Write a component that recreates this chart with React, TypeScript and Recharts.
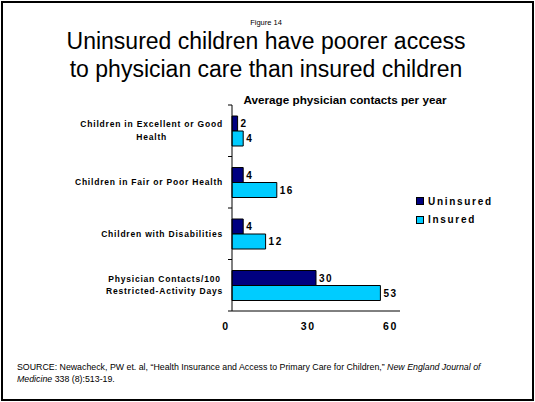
import { Bar, BarChart, LabelList, Legend, XAxis, YAxis } from 'recharts'

const categories = [
  'Children in Excellent or Good\nHealth',
  'Children in Fair or Poor Health',
  'Children with Disabilities',
  'Physician Contacts/100\nRestricted-Activity Days',
]
const uninsured = [2, 4, 4, 30]
const insured = [4, 16, 12, 53]
const xTicks = [0, 30, 60]
const seriesNames = ['Uninsured', 'Insured']

const data = categories.map((name, i) => ({ name, uninsured: uninsured[i], insured: insured[i] }))

const FONT = "'Liberation Sans', Arial, Helvetica, sans-serif"
const PLOT_TOP = 105
const PLOT_BOTTOM = 311
const BAND = (PLOT_BOTTOM - PLOT_TOP) / categories.length
const LABEL_SIZE = 8.5
const LABEL_SPACING = 0.8

let ctx: CanvasRenderingContext2D | null = null
function textWidth(s: string) {
  if (!ctx) ctx = document.createElement('canvas').getContext('2d')
  if (!ctx) return s.length * 5
  ctx.font = `bold ${LABEL_SIZE}px ${FONT}`
  return ctx.measureText(s).width + LABEL_SPACING * s.length
}

function CategoryTick(props: any) {
  const { x, y, payload, index } = props
  const lines = String(payload.value).split('\n')
  const w = Math.max(...lines.map(textWidth))
  const cx = x - 9 - w / 2
  const last = index === categories.length - 1
  return (
    <g>
      <line x1={x - 4} x2={x} y1={y - BAND / 2} y2={y - BAND / 2} stroke="#000" />
      {last && <line x1={x - 4} x2={x} y1={y + BAND / 2} y2={y + BAND / 2} stroke="#000" />}
      <text
        textAnchor="middle"
        fontFamily={FONT}
        fontWeight="bold"
        fontSize={LABEL_SIZE}
        letterSpacing={LABEL_SPACING}
        fill="#000"
      >
        {lines.map((l, i) => (
          <tspan key={i} x={cx} y={y + (i - (lines.length - 1) / 2) * 12.5} dy="0.35em">
            {l}
          </tspan>
        ))}
      </text>
    </g>
  )
}

function ValueTick(props: any) {
  const { x, y, payload } = props
  return (
    <text
      x={x - 6 - payload.value * 0.06}
      y={y + 19}
      textAnchor="middle"
      fontFamily={FONT}
      fontWeight="bold"
      fontSize={10.5}
      letterSpacing={1.5}
      fill="#000"
    >
      {payload.value}
    </text>
  )
}

function LegendBox(props: any) {
  const { payload = [] } = props
  const items = [...payload].sort(
    (a: any, b: any) => seriesNames.indexOf(a.value) - seriesNames.indexOf(b.value),
  )
  return (
    <div>
      {items.map((p: any) => (
        <div key={p.value} style={{ display: 'flex', alignItems: 'center', height: 18.5 }}>
          <span
            style={{
              width: 8,
              height: 8,
              boxSizing: 'border-box',
              background: p.color,
              border: '1px solid #000',
              marginRight: 4,
            }}
          />
          <span
            style={{
              fontFamily: FONT,
              fontWeight: 'bold',
              fontSize: 10,
              letterSpacing: 1.7,
              color: '#000',
            }}
          >
            {p.value}
          </span>
        </div>
      ))}
    </div>
  )
}

export default function App() {
  return (
    <div style={{ position: 'absolute', left: 0, top: 0, width: 535, height: 402, background: '#fff' }}>
      <div
        style={{
          position: 'absolute',
          left: 1,
          top: 1,
          width: 533,
          height: 400,
          border: '2px solid #000',
          boxSizing: 'border-box',
        }}
      />
      <svg width={535} height={402} style={{ position: 'absolute', left: 0, top: 0 }}>
        <text x={266} y={25} textAnchor="middle" fontFamily={FONT} fontSize={7.5} fill="#000">
          Figure 14
        </text>
        <text x={266} y={49} textAnchor="middle" fontFamily={FONT} fontSize={23} fill="#000">
          Uninsured children have poorer access
        </text>
        <text x={266} y={77} textAnchor="middle" fontFamily={FONT} fontSize={23} fill="#000">
          to physician care than insured children
        </text>
        <text x={345} y={104} textAnchor="middle" fontFamily={FONT} fontWeight="bold" fontSize={11.7} fill="#000">
          Average physician contacts per year
        </text>
        <text x={17} y={370} fontFamily={FONT} fontSize={8.8} fill="#000">
          {'SOURCE: Newacheck, PW et. al, \u201cHealth Insurance and Access to Primary Care for Children,\u201d '}
          <tspan fontStyle="italic">New England Journal of</tspan>
        </text>
        <text x={17} y={382} fontFamily={FONT} fontSize={8.8} fill="#000">
          <tspan fontStyle="italic">Medicine</tspan>
          {' 338 (8):513-19.'}
        </text>
      </svg>
      <div style={{ position: 'absolute', left: 0, top: 0 }}>
        <BarChart
          width={535}
          height={402}
          data={data}
          layout="vertical"
          barSize={15}
          barGap={0}
          margin={{ top: PLOT_TOP, right: 25, bottom: 402 - PLOT_BOTTOM - 30, left: 72 }}
        >
          <XAxis
            type="number"
            domain={[0, 60]}
            ticks={xTicks}
            height={30}
            axisLine={{ stroke: '#000' }}
            tickLine={false}
            tickSize={0}
            tickMargin={0}
            tick={<ValueTick />}
          />
          <YAxis
            type="category"
            dataKey="name"
            width={160}
            interval={0}
            axisLine={{ stroke: '#000' }}
            tickLine={false}
            tickSize={0}
            tickMargin={0}
            tick={<CategoryTick />}
          />
          <Legend
            layout="vertical"
            align="right"
            verticalAlign="middle"
            content={<LegendBox />}
            wrapperStyle={{ left: 416, top: 192, width: 110, height: 40 }}
          />
          <Bar dataKey="uninsured" name="Uninsured" fill="#000080" stroke="#000" strokeWidth={1} isAnimationActive={false}>
            <LabelList
              dataKey="uninsured"
              position="right"
              offset={3}
              fill="#000"
              fontFamily={FONT}
              fontWeight="bold"
              fontSize={10}
              letterSpacing={1.5}
            />
          </Bar>
          <Bar dataKey="insured" name="Insured" fill="#00CCFF" stroke="#000" strokeWidth={1} isAnimationActive={false}>
            <LabelList
              dataKey="insured"
              position="right"
              offset={3}
              fill="#000"
              fontFamily={FONT}
              fontWeight="bold"
              fontSize={10}
              letterSpacing={1.5}
            />
          </Bar>
        </BarChart>
      </div>
    </div>
  )
}
